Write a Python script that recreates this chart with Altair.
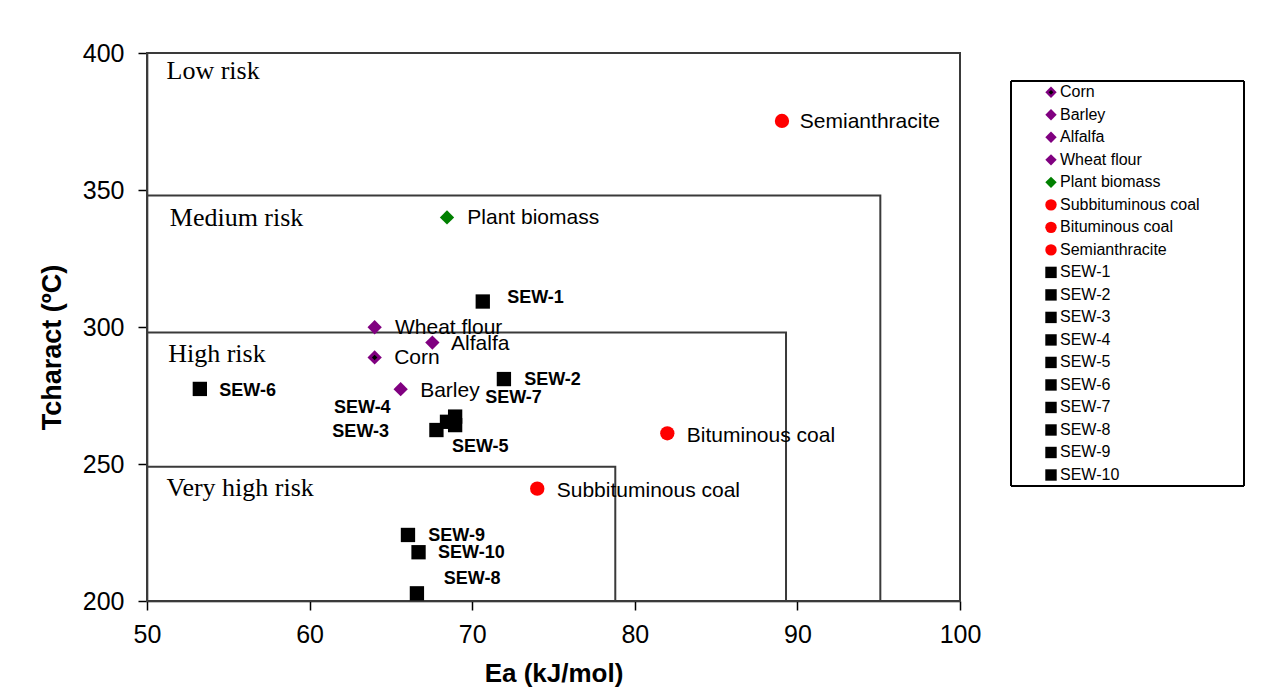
import altair as alt
import pandas as pd

# ---------------- data ----------------
series = ["Corn", "Barley", "Alfalfa", "Wheat flour", "Plant biomass",
          "Subbituminous coal", "Bituminous coal", "Semianthracite",
          "SEW-1", "SEW-2", "SEW-3", "SEW-4", "SEW-5",
          "SEW-6", "SEW-7", "SEW-8", "SEW-9", "SEW-10"]
ea = [64.0, 65.6, 67.55, 64.0, 68.45,
      74.0, 82.0, 89.05,
      70.65, 71.95, 67.8, 68.45, 68.95,
      53.25, 68.95, 66.6, 66.05, 66.7]
tcharact = [288.9, 277.3, 294.3, 299.9, 340.0,
            241.0, 261.2, 375.2,
            309.3, 281.0, 262.4, 265.4, 264.2,
            277.4, 267.3, 202.8, 224.1, 217.8]
# label anchors (data units, left edge / vertical middle of text)
label_x = [65.2, 66.8, 68.7, 65.25, 69.7,
           75.2, 83.2, 90.15,
           72.15, 73.2, 61.4, 61.5, 68.75,
           54.45, 70.8, 68.25, 67.3, 67.9]
label_y = [288.7, 276.6, 293.8, 299.6, 339.8,
           240.1, 260.2, 374.8,
           310.6, 280.7, 261.7, 270.4, 256.2,
           276.6, 274.1, 208.0, 223.6, 217.6]

risk_names = ["Low risk", "Medium risk", "High risk", "Very high risk"]
risk_ea_max = [100.0, 95.1, 89.3, 78.8]
risk_t_max = [400.0, 348.0, 298.0, 249.0]
risk_label_x = [51.2, 51.4, 51.3, 51.2]
risk_label_y = [393.6, 339.9, 290.0, 241.4]

x_ticks = [50, 60, 70, 80, 90, 100]
y_ticks = [200, 250, 300, 350, 400]

# ---------------- styles ----------------
purple = "#800080"
green = "#008000"
red = "#ff0000"
black = "#000000"
fill_range = [purple, purple, purple, purple, green, red, red, red] + [black] * 10
shape_range = ["diamond"] * 5 + ["circle"] * 3 + ["square"] * 10
size_range = [205] * 5 + [145] * 3 + [120] * 10
legend_size_range = [130] * 5 + [100] * 3 + [100] * 10

SANS = "Liberation Sans"
SERIF = "Liberation Serif"

df = pd.DataFrame({
    "series": series, "ea": ea, "t": tcharact,
    "lx": label_x, "ly": label_y,
    "kind": ["sew" if s.startswith("SEW") else "other" for s in series],
})
df_risk = pd.DataFrame({
    "risk": risk_names, "x0": [50.0] * 4, "y0": [200.0] * 4,
    "x1": risk_ea_max, "y1": risk_t_max,
    "lx": risk_label_x, "ly": risk_label_y,
})
df_leg = pd.DataFrame({"series": series})

xscale = alt.Scale(domain=[50, 100], nice=False, zero=False)
yscale = alt.Scale(domain=[200, 400], nice=False, zero=False)

fill_enc = alt.Fill("series:N", scale=alt.Scale(domain=series, range=fill_range), legend=None)
shape_enc = alt.Shape("series:N", scale=alt.Scale(domain=series, range=shape_range), legend=None)

x_axis = alt.Axis(values=x_ticks, title="Ea (kJ/mol)", grid=False,
                  labelFontSize=25, labelFont=SANS, labelColor="black",
                  titleFontSize=26, titleFont=SANS, titleFontWeight="bold", titleColor="black",
                  tickSize=9, tickColor="black", tickWidth=1.5,
                  domainColor="black", domainWidth=1.5,
                  labelPadding=12, titlePadding=13, labelOverlap=False, labelFlush=False)
y_axis = alt.Axis(values=y_ticks, title="Tcharact (ºC)", grid=False,
                  labelFontSize=25, labelFont=SANS, labelColor="black",
                  titleFontSize=27, titleFont=SANS, titleFontWeight="bold", titleColor="black",
                  tickSize=9, tickColor="black", tickWidth=1.5,
                  domainColor="black", domainWidth=1.5,
                  labelPadding=14, titlePadding=16, titleY=294, labelOverlap=False, labelFlush=False)

base_x = alt.X("x0:Q", scale=xscale, axis=x_axis)
base_y = alt.Y("y0:Q", scale=yscale, axis=y_axis)

boxes = alt.Chart(df_risk).mark_rect(fillOpacity=0, stroke="#3a3a3a", strokeWidth=2).encode(
    x=base_x, x2="x1:Q", y=base_y, y2="y1:Q")

risk_text = alt.Chart(df_risk).mark_text(
    align="left", baseline="middle", font=SERIF, fontSize=26, color="black"
).encode(x=alt.X("lx:Q", scale=xscale), y=alt.Y("ly:Q", scale=yscale), text="risk:N")

points = alt.Chart(df).mark_point(filled=True, opacity=1, strokeWidth=0).encode(
    x=alt.X("ea:Q", scale=xscale), y=alt.Y("t:Q", scale=yscale),
    fill=fill_enc, shape=shape_enc,
    size=alt.Size("series:N", scale=alt.Scale(domain=series, range=size_range), legend=None))

corn_core = alt.Chart(df).transform_filter(alt.datum.series == "Corn").mark_point(
    filled=True, opacity=1, strokeWidth=0, shape="diamond", color="black", size=30
).encode(x=alt.X("ea:Q", scale=xscale), y=alt.Y("t:Q", scale=yscale))

labels_plain = alt.Chart(df).transform_filter(alt.datum.kind == "other").mark_text(
    align="left", baseline="middle", font=SANS, fontSize=21, color="black"
).encode(x=alt.X("lx:Q", scale=xscale), y=alt.Y("ly:Q", scale=yscale), text="series:N")

labels_bold = alt.Chart(df).transform_filter(alt.datum.kind == "sew").mark_text(
    align="left", baseline="middle", font=SANS, fontSize=18, fontWeight="bold", color="black"
).encode(x=alt.X("lx:Q", scale=xscale), y=alt.Y("ly:Q", scale=yscale), text="series:N")

main = alt.layer(boxes, risk_text, points, corn_core, labels_plain, labels_bold)

# ---------------- legend (own vertical point scale) ----------------
leg_y = alt.Y("series:N", scale=alt.Scale(type="point", domain=series, range=[39.3, 422], padding=0),
              axis=None)
leg_frame = alt.Chart(df_leg).mark_rect(fillOpacity=0, stroke="black", strokeWidth=1).encode(
    x=alt.value(864), x2=alt.value(1097), y=alt.value(28), y2=alt.value(433))
leg_points = alt.Chart(df_leg).mark_point(filled=True, opacity=1, strokeWidth=0).encode(
    x=alt.value(904), y=leg_y, fill=fill_enc, shape=shape_enc,
    size=alt.Size("series:N", scale=alt.Scale(domain=series, range=legend_size_range), legend=None))
leg_corn = alt.Chart(df_leg).transform_filter(alt.datum.series == "Corn").mark_point(
    filled=True, opacity=1, strokeWidth=0, shape="diamond", color="black", size=22
).encode(x=alt.value(904), y=leg_y)
leg_text = alt.Chart(df_leg).mark_text(
    align="left", baseline="middle", font=SANS, fontSize=16, color="black"
).encode(x=alt.value(913), y=leg_y, text="series:N")
legend = alt.layer(leg_frame, leg_points, leg_corn, leg_text)

chart = alt.layer(main, legend).resolve_scale(y="independent", size="independent").properties(
    width=813, height=548,
    padding={"left": 30, "top": 33, "right": 5, "bottom": 5},
).configure_view(stroke=None).configure(background="white")

chart.save("out.html", embed_options={"renderer": "svg", "actions": False})
